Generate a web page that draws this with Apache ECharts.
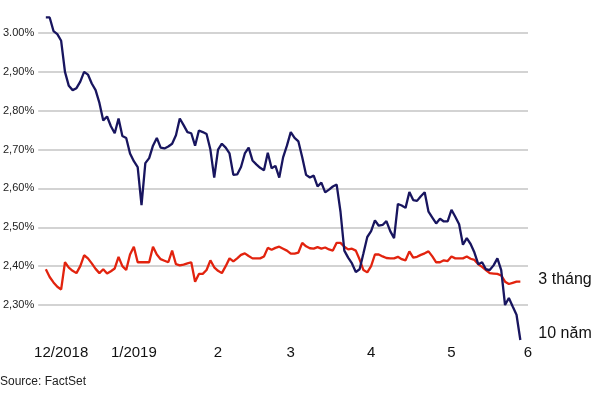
<!DOCTYPE html>
<html>
<head>
<meta charset="utf-8">
<script src="https://cdn.jsdelivr.net/npm/echarts@6/dist/echarts.min.js"></script>
<style>html,body{margin:0;padding:0;background:#fff}#c{width:600px;height:400px}</style>
</head>
<body>
<div id="c"></div>
<script>
// x axis: trading-day slots; labelled slots and their texts
const slotCount = 129;
const xTickIndex = [6, 25, 47, 66, 87, 108, 128];
const xTickLabels = ['12/2018', '1/2019', '2', '3', '4', '5', '6'];
const yTickLabels = ['2,30%', '2,40%', '2,50%', '2,60%', '2,70%', '2,80%', '2,90%', '3.00%'];
const firstSlot = 2;

// 10-year yield (%)
const tenYear = [
  3.04, 3.04, 3.005, 2.997, 2.98, 2.90, 2.864, 2.853, 2.858, 2.875,
  2.90, 2.893, 2.87, 2.853, 2.82, 2.775, 2.785, 2.76, 2.742, 2.78,
  2.735, 2.73, 2.69, 2.67, 2.655, 2.557, 2.665, 2.678, 2.71, 2.73,
  2.705, 2.703, 2.708, 2.715, 2.737, 2.78, 2.763, 2.745, 2.742, 2.71,
  2.749, 2.745, 2.74, 2.70, 2.628, 2.70, 2.715, 2.705, 2.69, 2.635,
  2.636, 2.655, 2.69, 2.705, 2.672, 2.662, 2.653, 2.647, 2.692, 2.652,
  2.658, 2.628, 2.68, 2.71, 2.745, 2.73, 2.721, 2.68, 2.635, 2.628,
  2.633, 2.605, 2.615, 2.59, 2.597, 2.605, 2.61, 2.54, 2.44, 2.422,
  2.407, 2.385, 2.392, 2.433, 2.475, 2.49, 2.518, 2.504, 2.506, 2.516,
  2.49, 2.472, 2.56, 2.556, 2.55, 2.591, 2.57, 2.568, 2.58, 2.59,
  2.54, 2.525, 2.51, 2.522, 2.515, 2.515, 2.545, 2.527, 2.508, 2.455,
  2.472, 2.457, 2.435, 2.405, 2.41, 2.392, 2.39, 2.402, 2.42, 2.39,
  2.30, 2.318, 2.296, 2.275, 2.21
];

// 3-month yield (%)
const threeMonth = [
  2.392, 2.372, 2.358, 2.347, 2.34, 2.41, 2.396, 2.388, 2.382, 2.40,
  2.428, 2.42, 2.407, 2.393, 2.382, 2.392, 2.381, 2.387, 2.394, 2.424,
  2.40, 2.39, 2.43, 2.45, 2.41, 2.41, 2.41, 2.41, 2.45, 2.43,
  2.418, 2.414, 2.41, 2.44, 2.405, 2.402, 2.404, 2.407, 2.41, 2.36,
  2.38, 2.38, 2.39, 2.415, 2.397, 2.388, 2.382, 2.40, 2.42, 2.412,
  2.42, 2.429, 2.433, 2.426, 2.42, 2.42, 2.42, 2.425, 2.447, 2.442,
  2.447, 2.45, 2.445, 2.44, 2.432, 2.432, 2.435, 2.46, 2.451, 2.446,
  2.445, 2.449, 2.445, 2.448, 2.443, 2.44, 2.46, 2.46, 2.45, 2.443,
  2.445, 2.44, 2.417, 2.39, 2.384, 2.40, 2.43, 2.43, 2.425, 2.421,
  2.42, 2.42, 2.424, 2.418, 2.415, 2.438, 2.422, 2.424, 2.429, 2.433,
  2.438, 2.425, 2.41, 2.41, 2.415, 2.413, 2.425, 2.42, 2.42, 2.42,
  2.425, 2.419, 2.416, 2.405, 2.398, 2.39, 2.382, 2.381, 2.38, 2.376,
  2.36, 2.354, 2.357, 2.36, 2.36
];

const seriesNames = ['10 năm', '3 tháng'];
const source = 'Source: FactSet';

const categories = [];
for (let i = 0; i < slotCount; i++) categories.push('d' + i);
function pad(arr) {
  const out = [];
  for (let i = 0; i < firstSlot; i++) out.push(null);
  return out.concat(arr);
}

const FONT = '"Liberation Sans", Arial, sans-serif';

const chart = echarts.init(document.getElementById('c'), null, {renderer: 'canvas'});
chart.setOption({
  animation: false,
  backgroundColor: '#ffffff',
  grid: {left: 33, right: 72, top: 33, height: 272},
  xAxis: {
    type: 'category',
    data: categories,
    boundaryGap: false,
    axisLine: {show: false},
    axisTick: {show: false},
    splitLine: {show: false},
    axisLabel: {
      interval: 0,
      margin: 40,
      color: '#111',
      fontSize: 15,
      fontFamily: FONT,
      formatter: function (v, idx) {
        const k = xTickIndex.indexOf(idx);
        return k >= 0 ? xTickLabels[k] : '';
      }
    }
  },
  yAxis: {
    type: 'value',
    min: 2.3,
    max: 3.0,
    interval: 0.1,
    axisLine: {show: false},
    axisTick: {show: false},
    splitLine: {lineStyle: {color: '#c4c4c4', width: 1.5}},
    axisLabel: {
      margin: 4,
      color: '#222',
      fontSize: 11,
      fontFamily: FONT,
      formatter: function (v, idx) { return yTickLabels[idx] || ''; }
    }
  },
  series: [
    {
      name: seriesNames[0],
      type: 'line',
      data: pad(tenYear),
      clip: false,
      symbol: 'none',
      lineStyle: {color: '#18155f', width: 2.3},
      endLabel: {
        show: true,
        formatter: seriesNames[0],
        distance: 18,
        offset: [0, -6],
        fontSize: 16,
        color: '#111',
        fontFamily: FONT
      },
      z: 3
    },
    {
      name: seriesNames[1],
      type: 'line',
      data: pad(threeMonth),
      clip: false,
      symbol: 'none',
      lineStyle: {color: '#e2230e', width: 2.3},
      endLabel: {
        show: true,
        formatter: seriesNames[1],
        distance: 18,
        offset: [0, -2],
        fontSize: 16,
        color: '#111',
        fontFamily: FONT
      },
      z: 2
    }
  ],
  graphic: [{
    type: 'text',
    left: 0,
    top: 376,
    style: {text: source, fontSize: 12, fill: '#222', fontFamily: FONT}
  }]
});
</script>
</body>
</html>
